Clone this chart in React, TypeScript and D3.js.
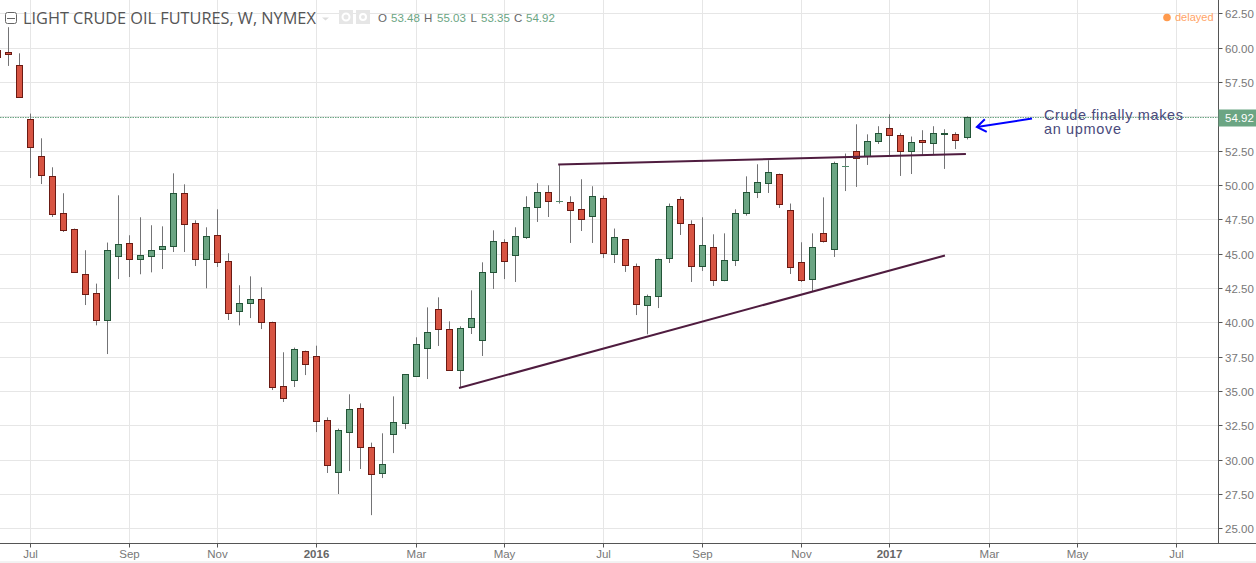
import React, { useEffect, useRef } from 'react';
import * as d3 from 'd3';

// weekly candles, first one is cut by the left edge (index -1)
const opens = [
  59.84,
  59.67, 58.73, 54.79, 52.10, 50.64, 47.95, 46.78, 43.50, 42.12, 40.20,
  44.86, 45.76, 44.64, 44.86, 45.30, 45.55, 49.40, 47.22, 44.64, 46.35,
  44.45, 40.81, 41.39, 41.68, 40.01, 35.35, 35.79, 37.90, 37.53, 32.87,
  29.08, 32.00, 33.75, 30.91, 29.01, 31.85, 32.65, 36.12, 38.12, 40.96,
  39.50, 36.51, 39.65, 38.70, 43.65, 45.84, 44.89, 46.20, 48.38, 49.48,
  48.82, 48.75, 48.24, 47.73, 49.04, 44.96, 46.05, 44.09, 41.25, 41.90,
  44.67, 48.97, 47.15, 44.09, 45.47, 43.07, 44.53, 47.95, 49.48, 50.13,
  50.79, 48.17, 44.38, 43.14, 46.49, 45.33, 51.37, 52.46, 52.10, 53.19,
  54.14, 53.63, 52.46, 53.27, 53.05, 53.70, 53.70, 53.48,
];
const closes = [
  59.33,
  59.53, 56.40, 52.75, 50.72, 47.88, 46.71, 43.65, 42.09, 40.20, 45.25,
  45.69, 44.64, 44.89, 45.25, 45.55, 49.40, 47.12, 44.64, 46.27, 44.42,
  40.67, 41.39, 41.68, 40.05, 35.28, 34.47, 38.04, 36.95, 32.80, 29.60,
  32.14, 33.67, 30.91, 28.94, 29.67, 32.73, 36.22, 38.41, 39.28, 39.50,
  36.51, 39.57, 40.30, 43.65, 45.91, 44.45, 46.27, 48.38, 49.48, 48.82,
  48.82, 48.17, 47.51, 49.19, 45.03, 46.20, 44.16, 41.32, 41.90, 44.60,
  48.46, 47.22, 44.09, 45.62, 43.07, 44.53, 47.95, 49.48, 50.21, 50.93,
  48.60, 44.02, 43.07, 45.47, 45.91, 51.59, 51.37, 51.95, 53.19, 53.78,
  53.63, 52.46, 53.12, 53.12, 53.78, 53.76, 53.27, 54.92,
];
const highs = [
  59.95,
  61.52, 59.62, 55.23, 53.43, 51.32, 49.43, 46.86, 45.28, 42.85, 45.84,
  49.28, 46.37, 47.68, 47.10, 47.02, 50.88, 50.08, 47.46, 46.95, 48.26,
  45.06, 42.73, 43.38, 42.58, 40.08, 37.85, 38.19, 37.97, 38.33, 33.11,
  32.29, 34.79, 34.13, 31.27, 31.95, 34.64, 36.24, 38.94, 41.12, 41.85,
  40.10, 39.74, 42.36, 44.40, 46.73, 46.08, 46.95, 49.21, 50.16, 50.01,
  51.52, 49.21, 50.45, 49.94, 49.26, 46.86, 46.08, 44.31, 42.05, 44.67,
  48.68, 49.19, 47.46, 47.68, 46.44, 46.51, 48.26, 50.66, 51.54, 51.83,
  50.86, 48.68, 45.86, 46.51, 49.13, 51.73, 52.32, 54.45, 53.72, 54.31,
  55.18, 53.80, 53.56, 54.02, 54.31, 54.09, 53.87, 55.03,
];
const lows = [
  59.2,
  58.70, 56.40, 50.54, 50.10, 47.70, 46.61, 43.65, 41.29, 39.81, 37.72,
  43.18, 43.33, 43.53, 43.67, 43.91, 45.15, 45.15, 44.13, 42.51, 44.06,
  40.20, 39.81, 40.34, 39.54, 35.10, 34.23, 35.32, 36.19, 32.04, 29.06,
  27.53, 29.20, 29.35, 25.99, 28.69, 30.51, 32.26, 36.05, 35.90, 38.31,
  36.50, 35.28, 39.18, 37.58, 42.46, 43.18, 42.97, 46.10, 47.34, 47.70,
  48.68, 45.81, 46.68, 45.81, 44.71, 44.35, 43.70, 40.56, 39.16, 41.07,
  44.35, 46.39, 42.97, 43.77, 42.68, 43.02, 44.13, 47.80, 49.08, 49.45,
  48.36, 43.55, 42.97, 42.27, 45.84, 44.79, 49.59, 49.89, 51.49, 53.02,
  52.17, 50.69, 50.83, 52.17, 52.24, 51.20, 52.65, 53.35,
];

const priceTicks = [25, 27.5, 30, 32.5, 35, 37.5, 40, 42.5, 45, 47.5, 50, 52.5, 55, 57.5, 60, 62.5];
const monthLabels = ['Jul', 'Sep', 'Nov', '2016', 'Mar', 'May', 'Jul', 'Sep', 'Nov', '2017', 'Mar', 'May', 'Jul'];
const monthIndex = [2, 11, 19, 28, 37, 45, 54, 63, 72, 80, 89, 97, 106];

// [candle index, price] end points of the drawn lines
const resistance: [number, number][] = [[49.9, 51.52], [86.9, 52.28]];
const support: [number, number][] = [[40.9, 35.25], [85, 44.9]];
const arrowFrom: [number, number] = [92.9, 54.87];
const arrowTo: [number, number] = [87.9, 54.26];
const lastPrice = 54.92;

const ohlcLegend = [
  { k: 'O', v: '53.48', kx: 378, vx: 391 },
  { k: 'H', v: '55.03', kx: 424, vx: 437 },
  { k: 'L', v: '53.35', kx: 470.5, vx: 481 },
  { k: 'C', v: '54.92', kx: 514, vx: 526 },
];

const UP = '#6ba583';
const DOWN = '#d75442';
const UP_BORDER = '#225437';
const DOWN_BORDER = '#6b1a13';
const WICK = '#737375';
const GRID = '#e6e6e6';
const AXIS = '#555555';
const FONT = '"Liberation Sans", Arial, sans-serif';

export default function App() {
  const svgRef = useRef<SVGSVGElement>(null);

  useEffect(() => {
    if (!svgRef.current) return;
    const width = 1256;
    const height = 563;
    const plotRight = 1218.5;
    const plotBottom = 543.5;

    const svg = d3.select(svgRef.current);
    svg.selectAll('*').remove();

    const x = d3.scaleLinear().domain([0, 87]).range([8.3, 967]);
    const y = d3.scaleLinear().domain([25, 62.5]).range([528.75, 13.75]);
    const crisp = (v: number) => Math.floor(v) + 0.5;

    svg.append('rect').attr('width', width).attr('height', height).attr('fill', '#fff');

    // grid
    const grid = svg.append('g').attr('stroke', GRID).attr('stroke-width', 1);
    priceTicks.forEach(p => {
      grid.append('line').attr('x1', 0).attr('x2', plotRight)
        .attr('y1', crisp(y(p))).attr('y2', crisp(y(p)));
    });
    monthIndex.forEach(i => {
      grid.append('line').attr('y1', 0).attr('y2', plotBottom)
        .attr('x1', crisp(x(i))).attr('x2', crisp(x(i)));
    });

    // last price line
    svg.append('line')
      .attr('x1', 0).attr('x2', plotRight)
      .attr('y1', crisp(y(lastPrice))).attr('y2', crisp(y(lastPrice)))
      .attr('stroke', UP).attr('stroke-dasharray', '1.5,1');

    // candles
    const candles = svg.append('g');
    opens.forEach((o, n) => {
      const idx = n - 1;
      const c = closes[n];
      const up = c >= o;
      const cx = crisp(x(idx));
      candles.append('line')
        .attr('x1', cx).attr('x2', cx)
        .attr('y1', y(highs[n])).attr('y2', y(lows[n]))
        .attr('stroke', WICK);
      const top = crisp(y(Math.max(o, c)));
      const bot = crisp(y(Math.min(o, c)));
      if (o === c) {
        candles.append('line')
          .attr('x1', cx - 3.5).attr('x2', cx + 3.5)
          .attr('y1', top).attr('y2', top)
          .attr('stroke', '#4f8a6a');
      } else {
        candles.append('rect')
          .attr('x', cx - 3).attr('width', 6)
          .attr('y', top).attr('height', Math.max(1, bot - top))
          .attr('fill', up ? UP : DOWN)
          .attr('stroke', up ? UP_BORDER : DOWN_BORDER);
      }
    });

    // trend lines
    const trend = d3.line<[number, number]>().x(d => x(d[0])).y(d => y(d[1]));
    [resistance, support].forEach(pts => {
      svg.append('path')
        .attr('d', trend(pts) as string)
        .attr('fill', 'none')
        .attr('stroke', '#4f1c3f')
        .attr('stroke-width', 2);
    });

    // arrow
    const ax0 = x(arrowFrom[0]), ay0 = y(arrowFrom[1]);
    const ax1 = x(arrowTo[0]), ay1 = y(arrowTo[1]);
    const ang = Math.atan2(ay0 - ay1, ax0 - ax1);
    const head = 11;
    const barb = (sign: number) =>
      [ax1 + head * Math.cos(ang + sign * 0.62), ay1 + head * Math.sin(ang + sign * 0.62)] as [number, number];
    svg.append('path')
      .attr('d', d3.line()([[ax0, ay0], [ax1, ay1]]) as string)
      .attr('stroke', '#0000ff').attr('stroke-width', 2).attr('fill', 'none');
    svg.append('path')
      .attr('d', d3.line()([barb(1), [ax1, ay1], barb(-1)]) as string)
      .attr('stroke', '#0000ff').attr('stroke-width', 2).attr('fill', 'none');

    // annotation
    const note = svg.append('g')
      .attr('font-family', FONT).attr('font-size', 14.5).attr('fill', '#4a4a7c')
      .style('letter-spacing', '0.65px');
    note.append('text').attr('x', 1044).attr('y', 120).text('Crude finally makes');
    note.append('text').attr('x', 1044).attr('y', 134).text('an upmove');

    // axes
    svg.append('line').attr('x1', plotRight).attr('x2', plotRight).attr('y1', 0).attr('y2', plotBottom)
      .attr('stroke', AXIS);
    svg.append('line').attr('x1', 0).attr('x2', width).attr('y1', plotBottom).attr('y2', plotBottom)
      .attr('stroke', AXIS);
    svg.append('line').attr('x1', 0).attr('x2', width).attr('y1', 562).attr('y2', 562)
      .attr('stroke', GRID);

    const yAxis = svg.append('g').attr('font-family', FONT).attr('font-size', 11.5).attr('fill', '#777');
    priceTicks.filter(p => p !== 55).forEach(p => {
      const py = crisp(y(p));
      yAxis.append('line').attr('x1', plotRight).attr('x2', plotRight + 4).attr('y1', py).attr('y2', py).attr('stroke', AXIS);
      yAxis.append('text').attr('x', 1225).attr('y', py + 4).text(p.toFixed(2));
    });

    const xAxis = svg.append('g').attr('font-family', FONT).attr('font-size', 11.5).attr('fill', '#777').attr('text-anchor', 'middle');
    monthIndex.forEach((i, k) => {
      const px = crisp(x(i));
      xAxis.append('line').attr('x1', px).attr('x2', px).attr('y1', plotBottom).attr('y2', plotBottom + 4).attr('stroke', AXIS);
      const isYear = /^\d+$/.test(monthLabels[k]);
      xAxis.append('text').attr('x', px).attr('y', 558)
        .attr('font-weight', isYear ? 'bold' : 'normal')
        .attr('fill', isYear ? '#666' : '#777')
        .text(monthLabels[k]);
    });

    // last price tag
    const tagY = crisp(y(lastPrice));
    svg.append('rect').attr('x', plotRight).attr('y', tagY - 8).attr('width', width - plotRight).attr('height', 17).attr('fill', UP);
    svg.append('text').attr('x', 1225).attr('y', tagY + 4)
      .attr('font-family', FONT).attr('font-size', 11.5).attr('fill', '#fff')
      .text(lastPrice.toFixed(2));

    // header
    svg.append('rect').attr('x', 5.5).attr('y', 12.5).attr('width', 11).attr('height', 11).attr('rx', 2)
      .attr('fill', '#fff').attr('stroke', '#666');
    svg.append('line').attr('x1', 7).attr('x2', 15).attr('y1', 18.5).attr('y2', 18.5).attr('stroke', '#666');
    svg.append('text').attr('x', 23).attr('y', 24)
      .attr('font-family', '"Open Sans", sans-serif').attr('font-size', 16.3).attr('fill', '#555')
      .text('LIGHT CRUDE OIL FUTURES, W, NYMEX');
    svg.append('path').attr('d', 'M322,17.5L329,17.5L325.5,20.5Z').attr('fill', '#ddd');
    [339, 356].forEach((ix, k) => {
      svg.append('rect').attr('x', ix).attr('y', 10).attr('width', 14).attr('height', 14).attr('fill', '#e6e6e6');
      svg.append('circle').attr('cx', ix + 7).attr('cy', 17).attr('r', k === 0 ? 3.5 : 3)
        .attr('fill', 'none').attr('stroke', '#fff').attr('stroke-width', 2);
    });
    const legend = svg.append('g').attr('font-family', FONT).attr('font-size', 11.5);
    ohlcLegend.forEach(d => {
      legend.append('text').attr('x', d.kx).attr('y', 22).attr('fill', '#666').text(d.k);
      legend.append('text').attr('x', d.vx).attr('y', 22).attr('fill', UP).text(d.v);
    });

    svg.append('circle').attr('cx', 1167).attr('cy', 17.5).attr('r', 3.8).attr('fill', '#ff9a4d');
    svg.append('text').attr('x', 1175).attr('y', 21)
      .attr('font-family', FONT).attr('font-size', 11).attr('fill', '#ffa366')
      .text('delayed');
  }, []);

  return (
    <svg
      ref={svgRef}
      width={1256}
      height={563}
      style={{ position: 'absolute', left: 0, top: 0, display: 'block' }}
    />
  );
}
